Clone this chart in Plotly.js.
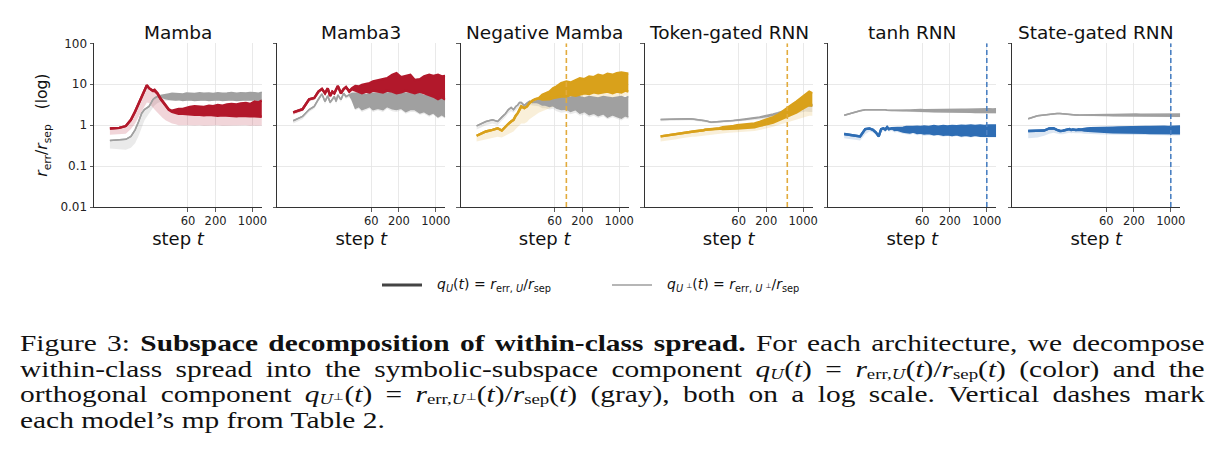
<!DOCTYPE html>
<html>
<head>
<meta charset="utf-8">
<script src="https://cdn.plot.ly/plotly-3.0.1.min.js"></script>
<style>
  html, body { margin: 0; padding: 0; background: #fff; }
  #wrap { position: relative; width: 1221px; height: 476px; overflow: hidden; }
  #chart { position: absolute; left: 0; top: 0; width: 1221px; height: 476px; }
  #caption {
    position: absolute; left: 20px; top: 331px; width: 967px;
    font-family: "Liberation Serif", "Times New Roman", serif;
    font-size: 24px; line-height: 25.7px; color: #111;
    transform: scaleX(1.225); transform-origin: 0 0;
  }
  #caption .ln { text-align: justify; text-align-last: justify; white-space: nowrap; }
  #caption .ln.last { text-align: left; text-align-last: left; }
  #caption sub { font-size: 0.64em; vertical-align: -0.12em; line-height: 0; }
  #caption sup { font-size: 0.62em; vertical-align: 0.38em; line-height: 0; }
  #caption .cal { font-style: italic; font-family: "DejaVu Serif", serif; font-size: 0.88em; }
</style>
</head>
<body>
<div id="wrap">
  <div id="chart"></div>
  <div id="caption">
    <div class="ln">Figure 3: <b>Subspace decomposition of within-class spread.</b> For each architecture, we decompose</div>
    <div class="ln">within-class spread into the symbolic-subspace component <i>q</i><sub><span class="cal">U</span></sub>(<i>t</i>) = <i>r</i><sub>err,<span class="cal">U</span></sub>(<i>t</i>)/<i>r</i><sub>sep</sub>(<i>t</i>) (color) and the</div>
    <div class="ln">orthogonal component <i>q</i><sub><span class="cal">U</span><sup>⊥</sup></sub>(<i>t</i>) = <i>r</i><sub>err,<span class="cal">U</span><sup>⊥</sup></sub>(<i>t</i>)/<i>r</i><sub>sep</sub>(<i>t</i>) (gray), both on a log scale. Vertical dashes mark</div>
    <div class="ln last">each model’s mp from Table 2.</div>
  </div>
</div>
<script>
// Training steps at which the ratios were logged (shared by all panels).
const steps = [2,3,4,5,6,7,8,9,10,11,12,13,14,16,18,20,23,26,30,35,40,48,56,65,80,100,120,150,180,220,270,330,400,500,600,750,900,1100,1300,1500];

const panelTitles = ["Mamba", "Mamba3", "Negative Mamba", "Token-gated RNN", "tanh RNN", "State-gated RNN"];

// mp step per model (Table 2); null where no marker is drawn.
const mpSteps = [null, null, 100, 500, 1000, 1000];

// q_U(t): per-step spread envelope (lo/hi) and lower edge of the seed band (sh).
const mambaU_hi = [0.83,0.86,0.95,1.35,2.16,3.45,5.0,7.3,9.5,8.0,7.3,7.0,7.3,6.0,4.6,3.8,2.9,2.45,2.25,2.4,2.5,2.5,2.7,2.8,2.9,2.9,2.8,3.0,2.9,3.1,3.0,3.2,3.3,3.2,3.4,3.5,3.3,3.8,3.6,4.0];
const mambaU_lo = [0.83,0.86,0.95,1.35,2.16,3.45,5.0,7.3,9.5,8.0,7.3,6.8,6.9,5.8,4.4,3.6,2.8,2.35,2.1,2.0,1.9,1.9,1.85,1.8,1.8,1.8,1.75,1.8,1.75,1.7,1.75,1.7,1.7,1.65,1.7,1.65,1.65,1.65,1.6,1.6];
const mambaU_sh = [0.58,0.6,0.62,0.8,1.1,1.6,2.2,3.0,3.6,3.5,3.0,2.7,2.4,2.0,1.7,1.5,1.3,1.2,1.1,1.05,1.0,1.0,0.98,1.0,0.98,1.0,0.97,0.99,0.98,1.0,0.97,0.98,1.0,0.97,0.98,0.99,0.97,0.98,0.97,0.98];

const mamba3U_hi = [2.04,2.46,4.3,4.6,6.6,7.7,6.0,7.9,5.2,6.6,6.0,7.3,9.1,6.0,7.6,8.5,6.8,8.0,9.1,8.8,9.7,10.2,10.6,11.7,12.3,13.3,14.0,17.0,18.7,14.9,16.0,17.0,12.7,13.3,15.5,17.0,16.0,17.0,15.5,16.0];
const mamba3U_lo = [2.04,2.46,4.3,4.6,6.6,7.7,6.0,7.9,5.2,6.6,6.0,7.3,9.1,6.0,7.6,8.5,6.6,7.6,7.0,6.3,6.0,6.6,6.3,7.0,6.6,6.3,7.0,6.6,6.0,6.3,7.0,6.6,6.0,6.6,6.0,5.5,5.0,4.3,4.8,4.2];
const mamba3U_sh = [1.8,2.2,3.8,4.1,5.8,6.8,5.3,7.0,4.6,5.8,5.3,6.4,8.0,5.3,6.7,7.5,5.8,6.7,6.2,5.6,5.3,5.8,5.6,6.2,5.8,5.6,6.2,5.8,5.3,5.6,6.2,5.8,5.3,5.8,5.3,4.9,4.4,3.8,4.2,3.7];

const negMambaU_hi = [0.55,0.7,0.77,0.84,0.74,0.93,1.08,1.23,1.35,1.7,1.96,2.4,2.86,2.6,2.86,3.45,4.0,4.3,4.6,5.5,6.0,6.6,8.0,8.8,10.6,11.7,11.0,12.7,14.0,13.3,15.5,14.9,17.0,16.0,18.0,17.0,18.7,19.5,18.7,18.0];
const negMambaU_lo = [0.55,0.7,0.77,0.84,0.74,0.93,1.08,1.23,1.35,1.7,1.96,2.4,2.86,2.6,2.86,3.45,4.0,4.3,4.5,4.2,4.2,4.3,4.6,4.8,5.0,5.0,5.5,5.2,5.5,6.0,5.8,6.3,6.0,6.3,6.6,6.0,6.6,6.3,7.0,6.6];
const negMambaU_sh = [0.4,0.45,0.5,0.52,0.5,0.55,0.6,0.65,0.7,0.8,0.9,1.0,1.1,1.1,1.2,1.4,1.6,1.8,2.0,2.2,2.4,2.6,2.8,3.0,3.4,3.6,4.0,4.0,4.3,4.6,4.5,4.8,4.7,4.9,5.0,4.7,5.0,4.9,5.3,5.0];

const tokenU_hi = [0.53,0.58,0.61,0.64,0.66,0.69,0.70,0.71,0.72,0.72,0.72,0.75,0.77,0.78,0.8,0.81,0.8,0.84,0.89,0.9,0.93,0.96,1.0,1.02,1.03,1.07,1.1,1.2,1.3,1.4,1.57,1.78,2.1,2.6,3.1,3.8,4.55,5.8,6.6,6.0];
const tokenU_lo = [0.53,0.58,0.61,0.64,0.66,0.69,0.70,0.71,0.72,0.72,0.72,0.75,0.77,0.78,0.8,0.81,0.8,0.82,0.8,0.8,0.81,0.83,0.83,0.84,0.86,0.86,0.89,0.96,1.0,1.07,1.16,1.3,1.45,1.63,1.85,2.04,2.37,2.75,3.1,2.97];
const tokenU_sh = [0.4,0.42,0.45,0.48,0.5,0.5,0.52,0.52,0.53,0.54,0.54,0.55,0.56,0.57,0.58,0.6,0.6,0.62,0.63,0.64,0.65,0.66,0.67,0.68,0.7,0.7,0.72,0.76,0.8,0.85,0.92,1.0,1.08,1.18,1.28,1.38,1.5,1.6,1.7,1.7];

const tanhU_hi = [0.61,0.57,0.53,0.8,0.83,0.77,0.66,0.53,0.8,0.84,0.78,0.89,0.8,0.84,0.84,0.85,0.86,0.87,0.9,0.88,0.9,0.92,0.9,0.93,0.9,0.95,0.92,0.95,0.93,0.96,0.94,0.97,0.95,0.98,0.95,0.98,0.96,0.99,0.97,0.98];
const tanhU_lo = [0.61,0.57,0.53,0.8,0.83,0.77,0.66,0.53,0.8,0.84,0.78,0.89,0.8,0.84,0.76,0.78,0.72,0.7,0.68,0.66,0.7,0.64,0.66,0.62,0.64,0.6,0.62,0.58,0.6,0.57,0.6,0.56,0.58,0.55,0.58,0.55,0.56,0.55,0.56,0.55];
const tanhU_sh = [0.48,0.44,0.42,0.6,0.7,0.66,0.58,0.48,0.68,0.72,0.68,0.76,0.7,0.72,0.66,0.68,0.64,0.62,0.6,0.58,0.62,0.57,0.58,0.55,0.57,0.54,0.55,0.52,0.54,0.51,0.54,0.5,0.52,0.5,0.52,0.5,0.5,0.5,0.5,0.5];

const stateU_hi = [0.72,0.72,0.74,0.83,0.84,0.77,0.72,0.73,0.75,0.78,0.8,0.76,0.78,0.76,0.8,0.79,0.82,0.83,0.84,0.85,0.86,0.86,0.87,0.88,0.87,0.88,0.89,0.88,0.9,0.89,0.9,0.91,0.9,0.92,0.91,0.92,0.91,0.93,0.92,0.93];
const stateU_lo = [0.72,0.72,0.74,0.83,0.84,0.77,0.72,0.73,0.75,0.78,0.8,0.76,0.78,0.76,0.78,0.77,0.74,0.73,0.72,0.7,0.7,0.69,0.68,0.68,0.67,0.67,0.66,0.66,0.66,0.65,0.65,0.65,0.64,0.64,0.64,0.64,0.63,0.63,0.63,0.63];
const stateU_sh = [0.48,0.5,0.55,0.62,0.65,0.62,0.6,0.6,0.62,0.64,0.65,0.63,0.64,0.63,0.64,0.63,0.62,0.61,0.6,0.6,0.6,0.59,0.59,0.59,0.58,0.58,0.58,0.58,0.58,0.57,0.57,0.57,0.57,0.57,0.57,0.57,0.56,0.56,0.56,0.56];

// q_U⊥(t): orthogonal component, same layout of arrays.
const mambaP_hi = [0.42,0.43,0.45,0.53,0.77,1.23,1.96,2.4,2.6,2.86,3.45,4.2,4.6,5.2,5.3,5.5,5.7,5.8,6.0,5.9,6.0,5.8,6.1,6.0,5.9,6.2,6.0,6.1,5.9,6.2,6.0,6.1,6.3,6.0,6.2,6.1,6.3,6.2,6.0,6.4];
const mambaP_lo = [0.42,0.43,0.45,0.53,0.77,1.23,1.96,2.4,2.6,2.86,3.45,4.2,4.6,5.0,4.9,4.6,4.4,4.3,4.2,4.1,4.2,4.0,4.1,4.2,4.0,4.1,4.2,4.0,4.1,4.2,4.0,4.1,4.2,4.0,4.1,4.2,4.1,4.2,4.0,4.2];
const mambaP_sh = [0.27,0.26,0.25,0.28,0.36,0.55,0.9,1.3,1.6,1.9,2.2,2.6,3.0,3.5,3.8,3.9,3.9,3.9,3.8,3.8,3.9,3.8,3.8,3.9,3.8,3.8,3.9,3.8,3.8,3.9,3.8,3.8,3.9,3.8,3.8,3.9,3.8,3.9,3.8,3.9];

const mamba3P_hi = [1.28,1.63,2.4,2.86,4.3,5.8,3.8,5.2,3.6,4.3,5.0,3.8,5.5,4.2,6.0,5.0,5.5,6.0,6.0,6.0,6.0,5.5,6.0,6.0,6.0,6.6,6.0,6.4,7.0,6.4,6.0,6.0,5.5,6.0,5.2,5.5,5.0,5.0,4.6,5.0];
const mamba3P_lo = [1.28,1.63,2.4,2.86,4.3,5.8,3.8,5.2,3.6,4.3,5.0,3.8,5.5,4.2,6.0,5.0,5.5,4.2,2.6,2.86,2.4,2.6,2.86,2.4,2.6,2.4,2.86,2.5,2.4,2.6,2.15,2.4,2.4,2.0,2.15,1.8,2.0,1.6,1.8,1.6];
const mamba3P_sh = [1.1,1.4,2.1,2.5,3.8,5.1,3.3,4.6,3.2,3.8,4.4,3.3,4.8,3.7,5.3,4.4,4.8,3.7,2.3,2.5,2.1,2.3,2.5,2.1,2.3,2.1,2.5,2.2,2.1,2.3,1.9,2.1,2.1,1.8,1.9,1.6,1.8,1.45,1.6,1.45];

const negMambaP_hi = [0.96,1.23,1.35,1.23,1.57,1.9,2.4,2.7,2.4,2.86,3.1,3.6,3.6,3.0,3.45,3.8,3.6,3.8,4.2,4.3,4.6,4.6,4.8,5.0,5.2,5.0,4.8,5.2,5.0,4.6,5.0,4.8,4.6,5.0,4.8,4.6,4.8,5.0,4.6,5.0];
const negMambaP_lo = [0.96,1.23,1.35,1.23,1.57,1.9,2.4,2.7,2.4,2.86,3.1,3.6,3.6,3.0,3.45,3.8,3.6,3.6,3.45,3.1,3.1,2.86,3.0,2.6,2.4,2.46,2.16,2.4,1.96,2.16,1.8,1.96,1.7,1.9,1.57,1.78,1.63,1.48,1.7,1.57];
const negMambaP_sh = [0.78,1.0,1.1,1.0,1.28,1.55,1.95,2.2,2.0,2.35,2.55,2.9,2.9,2.5,2.8,3.1,3.0,3.0,2.9,2.6,2.6,2.4,2.5,2.2,2.0,2.1,1.85,2.0,1.7,1.85,1.55,1.7,1.5,1.65,1.4,1.55,1.45,1.3,1.5,1.4];

const tokenP_hi = [1.37,1.4,1.42,1.45,1.44,1.44,1.42,1.4,1.37,1.35,1.33,1.3,1.28,1.23,1.18,1.19,1.2,1.22,1.24,1.26,1.28,1.3,1.33,1.36,1.42,1.48,1.52,1.58,1.68,1.74,1.88,2.02,2.18,2.45,2.65,2.85,3.1,3.35,3.2,3.25];
const tokenP_lo = [1.37,1.4,1.42,1.45,1.44,1.44,1.42,1.4,1.37,1.35,1.33,1.3,1.28,1.23,1.18,1.19,1.2,1.22,1.24,1.26,1.28,1.28,1.3,1.33,1.37,1.42,1.45,1.5,1.58,1.64,1.76,1.9,2.03,2.28,2.45,2.65,2.85,3.05,2.95,2.95];
const tokenP_sh = [1.25,1.28,1.3,1.32,1.32,1.32,1.3,1.28,1.25,1.24,1.22,1.2,1.18,1.14,1.1,1.1,1.11,1.13,1.15,1.17,1.18,1.18,1.2,1.22,1.25,1.28,1.3,1.33,1.38,1.42,1.5,1.58,1.65,1.78,1.85,1.95,2.05,2.15,2.1,2.1];

const tanhP_hi = [1.75,2.07,2.24,2.37,2.37,2.4,2.46,2.46,2.46,2.42,2.37,2.32,2.28,2.3,2.3,2.33,2.34,2.32,2.36,2.34,2.38,2.36,2.4,2.38,2.4,2.42,2.4,2.44,2.42,2.45,2.44,2.46,2.45,2.48,2.46,2.48,2.47,2.5,2.48,2.5];
const tanhP_lo = [1.75,2.07,2.24,2.37,2.37,2.4,2.46,2.46,2.46,2.42,2.37,2.32,2.28,2.28,2.28,2.3,2.28,2.26,2.25,2.22,2.2,2.2,2.18,2.16,2.15,2.14,2.12,2.12,2.1,2.1,2.08,2.08,2.06,2.06,2.05,2.05,2.04,2.04,2.03,2.03];
const tanhP_sh = [1.65,1.95,2.12,2.24,2.24,2.27,2.32,2.32,2.32,2.28,2.24,2.2,2.16,2.16,2.16,2.18,2.16,2.14,2.13,2.1,2.08,2.08,2.06,2.05,2.04,2.03,2.01,2.01,2.0,2.0,1.98,1.98,1.96,1.96,1.95,1.95,1.94,1.94,1.93,1.93];

const stateP_hi = [1.43,1.69,1.78,1.85,1.89,1.92,1.92,1.89,1.85,1.82,1.78,1.78,1.8,1.78,1.76,1.77,1.8,1.78,1.79,1.81,1.8,1.82,1.81,1.83,1.82,1.84,1.83,1.85,1.84,1.86,1.85,1.86,1.86,1.87,1.86,1.87,1.87,1.88,1.87,1.88];
const stateP_lo = [1.43,1.69,1.78,1.85,1.89,1.92,1.92,1.89,1.85,1.82,1.78,1.78,1.8,1.78,1.76,1.75,1.76,1.74,1.74,1.73,1.72,1.72,1.71,1.71,1.7,1.7,1.69,1.69,1.68,1.68,1.67,1.67,1.66,1.66,1.66,1.65,1.65,1.65,1.64,1.64];
const stateP_sh = [1.36,1.6,1.69,1.75,1.79,1.82,1.82,1.79,1.75,1.72,1.69,1.69,1.7,1.69,1.67,1.66,1.67,1.65,1.65,1.64,1.63,1.63,1.62,1.62,1.61,1.61,1.6,1.6,1.6,1.6,1.59,1.59,1.58,1.58,1.58,1.57,1.57,1.57,1.56,1.56];

const yTickVals = [0.01, 0.1, 1, 10, 100];
const yTickText = ["0.01", "0.1", "1", "10", "100"];
const xTickVals = [60, 200, 1000];
const xTickText = ["60", "200", "1000"];

// Colours per model: [line colour, light seed-band fill, marker dash colour]
const RED  = ["#b2182b", "rgba(178,24,43,0.18)", "#b2182b"];
const GOLD = ["#d9a11b", "rgba(217,161,27,0.17)", "#e2ab3c"];
const BLUE = ["#2e6db4", "rgba(46,109,180,0.17)", "#4a80c2"];
const GRAY_LINE = "#a0a0a0";
const GRAY_FILL = "rgba(150,150,150,0.2)";

const panels = [
  { u: [mambaU_lo, mambaU_hi, mambaU_sh], p: [mambaP_lo, mambaP_hi, mambaP_sh], c: RED },
  { u: [mamba3U_lo, mamba3U_hi, mamba3U_sh], p: [mamba3P_lo, mamba3P_hi, mamba3P_sh], c: RED },
  { u: [negMambaU_lo, negMambaU_hi, negMambaU_sh], p: [negMambaP_lo, negMambaP_hi, negMambaP_sh], c: GOLD },
  { u: [tokenU_lo, tokenU_hi, tokenU_sh], p: [tokenP_lo, tokenP_hi, tokenP_sh], c: GOLD },
  { u: [tanhU_lo, tanhU_hi, tanhU_sh], p: [tanhP_lo, tanhP_hi, tanhP_sh], c: BLUE },
  { u: [stateU_lo, stateU_hi, stateU_sh], p: [stateP_lo, stateP_hi, stateP_sh], c: BLUE }
];

// Panel geometry in pixels
const W = 1221, H = 476;
const panelLeft = [94, 277.3, 460.7, 644.7, 828.3, 1012.3];
const panelWidth = 168;
const plotTop = 43.3, plotBottom = 207;

const traces = [];
const layout = {
  width: W, height: H,
  margin: { l: 0, r: 0, t: 0, b: 0 },
  paper_bgcolor: "#fff", plot_bgcolor: "#fff",
  showlegend: false,
  font: { family: "DejaVu Sans, sans-serif", color: "#222", size: 12 },
  annotations: [], shapes: []
};

function shadeTraces(xa, ya, lower, upper, fill) {
  traces.push({ x: steps, y: lower, xaxis: xa, yaxis: ya, type: "scatter", mode: "lines",
    line: { width: 0 }, hoverinfo: "skip" });
  traces.push({ x: steps, y: upper, xaxis: xa, yaxis: ya, type: "scatter", mode: "lines",
    line: { width: 0 }, fill: "tonexty", fillcolor: fill, hoverinfo: "skip" });
}

function bandTraces(xa, ya, lo, hi, color, width) {
  traces.push({ x: steps, y: lo, xaxis: xa, yaxis: ya, type: "scatter", mode: "lines",
    line: { width: width, color: color, shape: "linear" }, hoverinfo: "skip" });
  traces.push({ x: steps, y: hi, xaxis: xa, yaxis: ya, type: "scatter", mode: "lines",
    line: { width: width, color: color, shape: "linear" }, fill: "tonexty", fillcolor: color, hoverinfo: "skip" });
}

panels.forEach((pn, i) => {
  const n = i + 1;
  const xa = "x" + (n === 1 ? "" : n);
  const ya = "y" + (n === 1 ? "" : n);
  const xKey = "xaxis" + (n === 1 ? "" : n);
  const yKey = "yaxis" + (n === 1 ? "" : n);

  // light seed bands first, then the gray component, then the coloured one on top
  shadeTraces(xa, ya, pn.p[2], pn.p[0], GRAY_FILL);
  shadeTraces(xa, ya, pn.u[2], pn.u[0], pn.c[1]);
  bandTraces(xa, ya, pn.p[0], pn.p[1], GRAY_LINE, 1.5);
  bandTraces(xa, ya, pn.u[0], pn.u[1], pn.c[0], 2.4);

  if (mpSteps[i] !== null) {
    traces.push({ x: [mpSteps[i], mpSteps[i]], y: [0.01, 100], xaxis: xa, yaxis: ya,
      type: "scatter", mode: "lines", line: { color: pn.c[2], width: 1.6, dash: "5px,3px" },
      hoverinfo: "skip" });
  }

  const x0 = panelLeft[i] / W, x1 = (panelLeft[i] + panelWidth) / W;
  layout[xKey] = {
    type: "log", range: [0, 3.18], domain: [x0, x1], anchor: ya,
    tickvals: xTickVals, ticktext: xTickText,
    ticks: "outside", ticklen: 3.5, tickwidth: 0.8, tickcolor: "#333",
    tickfont: { size: 11.5, color: "#222" },
    title: { text: "step <i>t</i>", font: { size: 18, color: "#111" }, standoff: 3 },
    showgrid: true, gridcolor: "#e4e4e4", gridwidth: 0.8,
    showline: true, linecolor: "#333", linewidth: 1,
    zeroline: false, fixedrange: true
  };
  layout[yKey] = {
    type: "log", range: [-2, 2], domain: [1 - plotBottom / H, 1 - plotTop / H], anchor: xa,
    tickvals: yTickVals, ticktext: yTickText, showticklabels: i === 0,
    ticks: "outside", ticklen: 3.5, tickwidth: 0.8, tickcolor: "#333",
    tickfont: { size: 12, color: "#222" },
    showgrid: true, gridcolor: "#e4e4e4", gridwidth: 0.8,
    showline: true, linecolor: "#333", linewidth: 1,
    zeroline: false, fixedrange: true
  };
  if (i === 0) {
    layout[yKey].title = { text: "<i>r</i><sub>err</sub>/<i>r</i><sub>sep</sub>   (log)",
      font: { size: 15.5, color: "#111" }, standoff: 8 };
  }

  const cx = (panelLeft[i] + panelWidth / 2) / W;
  layout.annotations.push({
    text: panelTitles[i], xref: "paper", yref: "paper", x: cx, y: 1 - 33 / H,
    xanchor: "center", yanchor: "middle", showarrow: false,
    font: { size: 18.5, color: "#111" }
  });
});

// shared legend below the panels
const legY = 1 - 285 / H;
layout.shapes.push({ type: "line", xref: "paper", yref: "paper", x0: 382 / W, x1: 422 / W, y0: legY, y1: legY,
  line: { color: "#444", width: 3 } });
layout.shapes.push({ type: "line", xref: "paper", yref: "paper", x0: 612 / W, x1: 652 / W, y0: legY, y1: legY,
  line: { color: "#9e9e9e", width: 1.5 } });
layout.annotations.push({
  text: "<i>q</i><sub><i>U</i></sub>(<i>t</i>) = <i>r</i><sub>err, <i>U</i></sub>/<i>r</i><sub>sep</sub>",
  xref: "paper", yref: "paper", x: 435 / W, y: legY, xanchor: "left", yanchor: "middle",
  showarrow: false, font: { size: 14, color: "#111" }
});
layout.annotations.push({
  text: "<i>q</i><sub><i>U</i> <sup>⊥</sup></sub>(<i>t</i>) = <i>r</i><sub>err, <i>U</i> <sup>⊥</sup></sub>/<i>r</i><sub>sep</sub>",
  xref: "paper", yref: "paper", x: 665 / W, y: legY, xanchor: "left", yanchor: "middle",
  showarrow: false, font: { size: 14, color: "#111" }
});

Plotly.newPlot("chart", traces, layout, { displayModeBar: false, staticPlot: true });
</script>
</body>
</html>
